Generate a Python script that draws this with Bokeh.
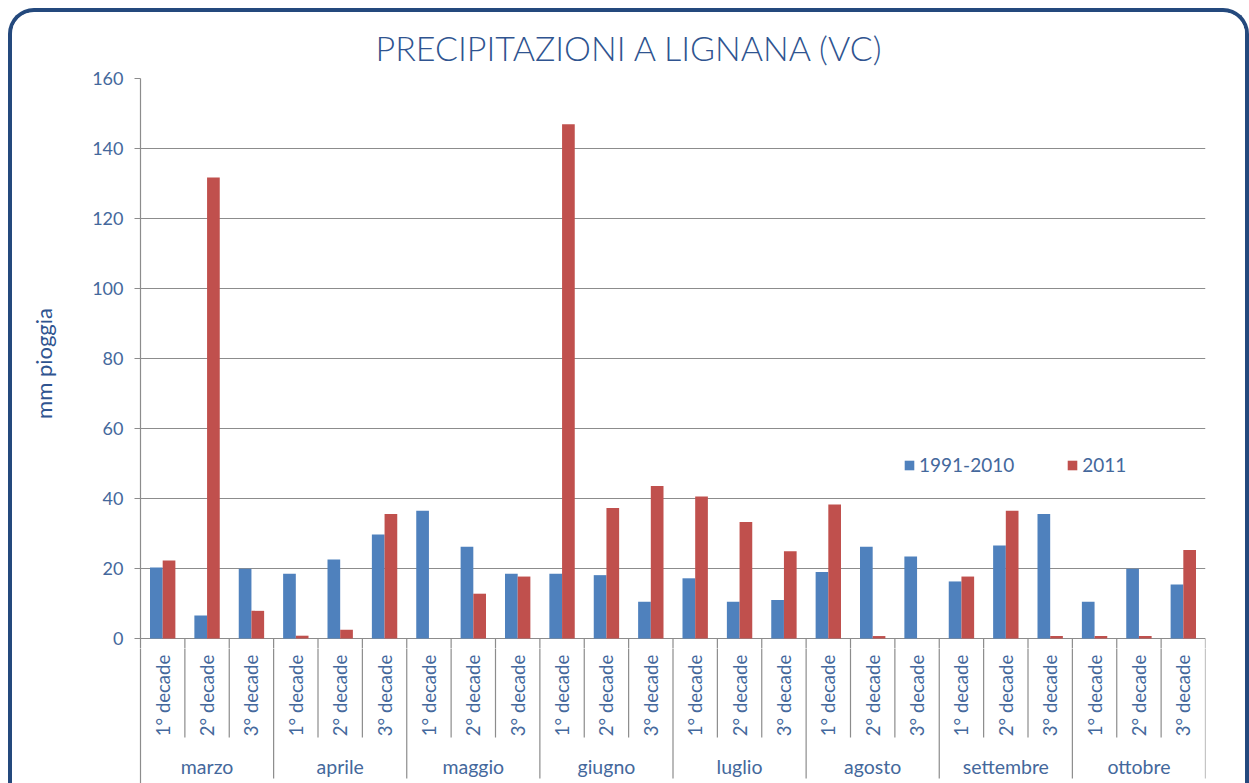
import math
from bokeh.plotting import figure
from bokeh.models import Range1d, FixedTicker, Legend, LegendItem, Title
from bokeh.layouts import column
from bokeh.embed import file_html
from bokeh.resources import INLINE
from bokeh.core.properties import value

# ---------------- data ----------------
months = ["marzo", "aprile", "maggio", "giugno", "luglio", "agosto", "settembre", "ottobre"]
decades = ["1° decade", "2° decade", "3° decade"]
series_names = ["1991-2010", "2011"]
clim_1991_2010 = [20.3, 6.6, 19.9, 18.5, 22.6, 29.7, 36.5, 26.2, 18.5,
                  18.5, 18.1, 10.5, 17.2, 10.5, 11.0, 19.0, 26.2, 23.4,
                  16.3, 26.6, 35.6, 10.5, 19.9, 15.4]
rain_2011 = [22.3, 131.7, 7.9, 0.8, 2.5, 35.6, 0.0, 12.8, 17.7,
             146.9, 37.3, 43.6, 40.6, 33.3, 24.9, 38.3, 0.7, 0.0,
             17.7, 36.5, 0.7, 0.7, 0.7, 25.3]
y_ticks = [0, 20, 40, 60, 80, 100, 120, 140, 160]
title_text = "PRECIPITAZIONI A LIGNANA (VC)"
y_label = "mm pioggia"

# ---------------- style ----------------
FONT = "Lato"
LIGHT = "Lato Light"
TXT = "#44689C"
GRID = "#8C8C8C"
BLUE = "#4F81BD"
RED = "#C0504D"

n = len(months) * len(decades)
idx = list(range(n))
cat_labels = [d for m in months for d in decades]
BW = 0.286
xb = [i - BW / 2 for i in idx]
xr = [i + BW / 2 for i in idx]

W = 1233
ML, MR = 128, 40
PX = 3.5                      # pixels per mm on the value axis
Y_SPLIT = 160 - 570 / PX      # bottom of the main frame (a little below 0)
YB = Y_SPLIT - 135 / PX       # bottom of the category table
xrange_ = Range1d(-0.5, n - 0.5)

inner = [i + 0.5 for i in idx[:-1] if (i + 1) % 3 != 0]
outer = [i + 0.5 for i in idx if (i + 1) % 3 == 0]


def separators(fig):
    fig.segment(x0=inner, y0=[0] * len(inner), x1=inner, y1=[-28.3] * len(inner),
                line_color=GRID, line_width=1.2)
    fig.segment(x0=outer, y0=[0] * len(outer), x1=outer, y1=[-40.0] * len(outer),
                line_color=GRID, line_width=1.2)


# ---------- main chart ----------
p = figure(width=W, height=636, output_backend="svg", toolbar_location=None,
           x_range=xrange_, y_range=Range1d(Y_SPLIT, 160),
           x_axis_location=None,
           min_border_left=ML, min_border_right=MR, min_border_top=66, min_border_bottom=0)
p.title = Title(text=title_text, align="left", offset=235, text_font=LIGHT,
                text_font_size="34px", text_font_style="normal",
                text_color="#2F5490", standoff=21)
p.outline_line_color = None
p.xgrid.visible = False
p.ygrid.ticker = FixedTicker(ticks=y_ticks)
p.ygrid.grid_line_color = GRID
p.ygrid.grid_line_width = 1.2

ax = p.yaxis[0]
ax.ticker = FixedTicker(ticks=y_ticks)
ax.axis_line_color = GRID
ax.axis_line_width = 1.2
ax.major_tick_line_color = GRID
ax.major_tick_line_width = 1.2
ax.major_tick_out = 6
ax.major_tick_in = 0
ax.minor_tick_line_color = None
ax.major_label_text_font = FONT
ax.major_label_text_font_size = "18px"
ax.major_label_text_color = TXT
ax.major_label_standoff = 11
ax.axis_label = y_label
ax.axis_label_text_font = FONT
ax.axis_label_text_font_size = "22px"
ax.axis_label_text_font_style = "normal"
ax.axis_label_text_color = "#2F5490"
ax.axis_label_standoff = 32

rb = p.vbar(x=xb, top=clim_1991_2010, width=BW, bottom=0, fill_color=BLUE, line_color=None)
rr = p.vbar(x=xr, top=rain_2011, width=BW, bottom=0, fill_color=RED, line_color=None)
separators(p)

legend = Legend(items=[LegendItem(label=series_names[0], renderers=[rb]),
                       LegendItem(label=series_names[1], renderers=[rr])],
                orientation="horizontal", location=(763, 172),
                background_fill_alpha=0, border_line_color=None,
                glyph_width=12, glyph_height=12, label_standoff=4, spacing=52,
                padding=0, margin=0,
                label_text_font=FONT, label_text_font_size="19px",
                label_text_color=TXT)
p.add_layout(legend)

# ---------- category table below ----------
q = figure(width=W, height=135, output_backend="svg", toolbar_location=None,
           x_range=xrange_, y_range=Range1d(YB, Y_SPLIT),
           x_axis_location=None,
           min_border_left=ML, min_border_right=MR, min_border_top=0, min_border_bottom=0)
q.outline_line_color = None
q.xgrid.visible = False
q.ygrid.visible = False
qa = q.yaxis[0]
qa.ticker = FixedTicker(ticks=[])
qa.axis_line_color = GRID
qa.axis_line_width = 1.2
qa.major_tick_line_color = None
qa.minor_tick_line_color = None
qa.major_label_text_font_size = "0px"
separators(q)

q.text(x=idx, y=[-16.3] * n, text=cat_labels, angle=math.pi / 2,
       text_align="center", text_baseline="middle",
       text_font=value(FONT), text_font_size="18.5px", text_color=TXT)
mx = [3 * k + 1 for k in range(len(months))]
q.text(x=mx, y=[-36.6] * len(months), text=months,
       text_align="center", text_baseline="middle",
       text_font=value(FONT), text_font_size="19.5px", text_color=TXT)

lay = column(p, q, spacing=0,
             styles={"margin-left": "8px", "margin-top": "8px",
                     "border": "4px solid #24497D", "border-bottom": "none",
                     "border-radius": "26px 26px 0 0", "overflow": "hidden"})

open("out.html", "w").write(file_html(lay, INLINE))
